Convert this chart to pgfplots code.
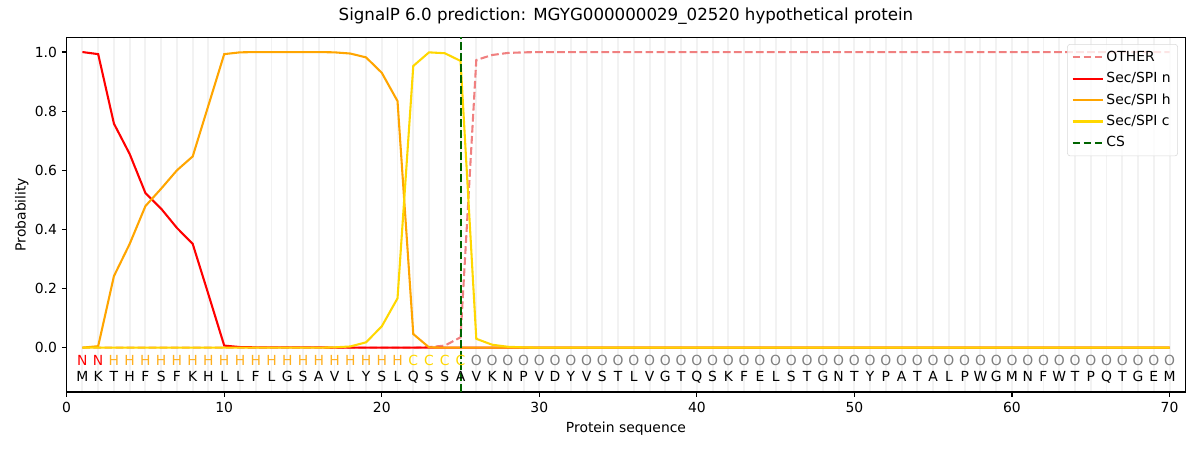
\documentclass[border=0pt]{standalone}
\usepackage{fontspec}
\setmainfont{DejaVu Sans}
\usepackage{pgfplots}
\usepackage{pgfplotstable}
\pgfplotsset{compat=1.18}
\definecolor{othc}{HTML}{F08080}
\definecolor{secn}{HTML}{FF0000}
\definecolor{sech}{HTML}{FFA500}
\definecolor{secc}{HTML}{FFD700}
\definecolor{csc}{HTML}{006400}
\definecolor{gridc}{HTML}{F2F2F2}
\definecolor{labo}{HTML}{808080}
\definecolor{labh}{HTML}{FFB020}

\pgfplotstableread{
x other n h c
1 0 1.0 0.0 0.0
2 0 0.993 0.005 0.0
3 0 0.758 0.242 0.0
4 0 0.655 0.351 0.0
5 0 0.523 0.479 0.0
6 0 0.470 0.538 0.0
7 0 0.405 0.600 0.0
8 0 0.351 0.647 0.0
9 0 0.180 0.820 0.0
10 0 0.007 0.993 0.0
11 0 0.002 0.999 0.0
12 0 0.001 1.0 0.0
13 0 0.001 1.0 0.0
14 0 0.001 1.0 0.0
15 0 0.001 1.0 0.0
16 0 0.001 1.0 0.0
17 0 0.0 0.999 0.001
18 0 0.0 0.995 0.004
19 0 0.0 0.982 0.018
20 0 0.0 0.930 0.072
21 0 0.0 0.834 0.167
22 0 0.0 0.046 0.953
23 0.002 0.0 0.001 0.999
24 0.007 0.0 0.0 0.996
25 0.035 0.0 0.0 0.970
26 0.973 0.0 0.0 0.030
27 0.990 0.0 0.0 0.010
28 0.997 0.0 0.0 0.003
29 0.999 0.0 0.0 0.001
30 1.0 0 0 0
31 1.0 0 0 0
32 1.0 0 0 0
33 1.0 0 0 0
34 1.0 0 0 0
35 1.0 0 0 0
36 1.0 0 0 0
37 1.0 0 0 0
38 1.0 0 0 0
39 1.0 0 0 0
40 1.0 0 0 0
41 1.0 0 0 0
42 1.0 0 0 0
43 1.0 0 0 0
44 1.0 0 0 0
45 1.0 0 0 0
46 1.0 0 0 0
47 1.0 0 0 0
48 1.0 0 0 0
49 1.0 0 0 0
50 1.0 0 0 0
51 1.0 0 0 0
52 1.0 0 0 0
53 1.0 0 0 0
54 1.0 0 0 0
55 1.0 0 0 0
56 1.0 0 0 0
57 1.0 0 0 0
58 1.0 0 0 0
59 1.0 0 0 0
60 1.0 0 0 0
61 1.0 0 0 0
62 1.0 0 0 0
63 1.0 0 0 0
64 1.0 0 0 0
65 1.0 0 0 0
66 1.0 0 0 0
67 1.0 0 0 0
68 1.0 0 0 0
69 1.0 0 0 0
70 1.0 0 0 0
}\probs

\pgfplotsset{
  seqlabel/.style={forget plot, draw=none, mark=none, nodes near coords,
    point meta=explicit symbolic,
    nodes near coords style={anchor=base, inner sep=0pt, font=\fontsize{10}{12}\selectfont, text=#1}},
}

\begin{document}
\begin{tikzpicture}
\useasboundingbox (0,0) rectangle (864pt,324pt);
\begin{axis}[
  at={(48pt,41.76pt)}, anchor=south west,
  scale only axis, width=805.4pt, height=255.4pt,
  xmin=0, xmax=71, ymin=-0.15, ymax=1.05,
  xtick={0,10,20,30,40,50,60,70},
  ytick={0,0.2,0.4,0.6,0.8,1.0},
  minor xtick={1,...,70},
  xminorgrids, minor grid style={draw=gridc, line width=1.4pt},
  minor tick length=0pt,
  tick align=outside, major tick length=3.5pt,
  tick style={black, line width=0.8pt},
  xtick pos=bottom, ytick pos=left,
  axis line style={line width=0.8pt},
  /pgf/number format/assume math mode=true,
  yticklabel style={/pgf/number format/.cd, fixed, fixed zerofill, precision=1},
  ticklabel style={font=\fontsize{10}{12}\selectfont},
  title={SignalP 6.0 prediction: MGYG000000029\_02520 hypothetical protein},
  title style={at={(axis description cs:0.5,1)}, anchor=base, yshift=6pt, inner sep=0pt, font=\fontsize{12}{14}\selectfont},
  xlabel={Protein sequence},
  xlabel style={at={([yshift=-29pt]axis description cs:0.5,0)}, anchor=base, inner sep=0pt, font=\fontsize{10}{12}\selectfont},
  ylabel={Probability},
  ylabel style={at={([xshift=-29.5pt]axis description cs:0,0.5)}, anchor=base, rotate=0, inner sep=0pt, font=\fontsize{10}{12}\selectfont},
  legend style={at={(0.9934,0.981)}, anchor=north east, draw=gray!30, rounded corners=2pt,
    fill=white, fill opacity=0.8, text opacity=1, font=\fontsize{10}{12}\selectfont,
    row sep=2.4pt, inner sep=3pt},
  legend cell align=left,
  legend image code/.code={\draw[#1] (0pt,0pt) -- (21.6pt,0pt);},
]
\addplot[othc, line width=1.5pt, dash pattern=on 5.55pt off 2.4pt] table[x=x, y=other] {\probs};
\addlegendentry{OTHER}
\addplot[secn, line width=1.5pt] table[x=x, y=n] {\probs};
\addlegendentry{Sec/SPI n}
\addplot[sech, line width=1.5pt] table[x=x, y=h] {\probs};
\addlegendentry{Sec/SPI h}
\addplot[secc, line width=1.5pt] table[x=x, y=c] {\probs};
\addlegendentry{Sec/SPI c}
\addplot[csc, line width=1.5pt, dash pattern=on 5.55pt off 2.4pt] coordinates {(25,-0.15) (25,1.05)};
\addlegendentry{CS}

\addplot[seqlabel=secn] table[row sep=\\, meta=l] {x y l\\ 1 -0.062 N\\ 2 -0.062 N\\};
\addplot[seqlabel=labh] table[row sep=\\, meta=l] {x y l\\ 3 -0.062 H\\ 4 -0.062 H\\ 5 -0.062 H\\ 6 -0.062 H\\ 7 -0.062 H\\ 8 -0.062 H\\ 9 -0.062 H\\ 10 -0.062 H\\ 11 -0.062 H\\ 12 -0.062 H\\ 13 -0.062 H\\ 14 -0.062 H\\ 15 -0.062 H\\ 16 -0.062 H\\ 17 -0.062 H\\ 18 -0.062 H\\ 19 -0.062 H\\ 20 -0.062 H\\ 21 -0.062 H\\};
\addplot[seqlabel=secc] table[row sep=\\, meta=l] {x y l\\ 22 -0.062 C\\ 23 -0.062 C\\ 24 -0.062 C\\ 25 -0.062 C\\};
\addplot[seqlabel=labo] table[row sep=\\, meta=l] {x y l\\ 26 -0.062 O\\ 27 -0.062 O\\ 28 -0.062 O\\ 29 -0.062 O\\ 30 -0.062 O\\ 31 -0.062 O\\ 32 -0.062 O\\ 33 -0.062 O\\ 34 -0.062 O\\ 35 -0.062 O\\ 36 -0.062 O\\ 37 -0.062 O\\ 38 -0.062 O\\ 39 -0.062 O\\ 40 -0.062 O\\ 41 -0.062 O\\ 42 -0.062 O\\ 43 -0.062 O\\ 44 -0.062 O\\ 45 -0.062 O\\ 46 -0.062 O\\ 47 -0.062 O\\ 48 -0.062 O\\ 49 -0.062 O\\ 50 -0.062 O\\ 51 -0.062 O\\ 52 -0.062 O\\ 53 -0.062 O\\ 54 -0.062 O\\ 55 -0.062 O\\ 56 -0.062 O\\ 57 -0.062 O\\ 58 -0.062 O\\ 59 -0.062 O\\ 60 -0.062 O\\ 61 -0.062 O\\ 62 -0.062 O\\ 63 -0.062 O\\ 64 -0.062 O\\ 65 -0.062 O\\ 66 -0.062 O\\ 67 -0.062 O\\ 68 -0.062 O\\ 69 -0.062 O\\ 70 -0.062 O\\};
\addplot[seqlabel=black] table[row sep=\\, meta=l] {x y l\\ 1 -0.113 M\\ 2 -0.113 K\\ 3 -0.113 T\\ 4 -0.113 H\\ 5 -0.113 F\\ 6 -0.113 S\\ 7 -0.113 F\\ 8 -0.113 K\\ 9 -0.113 H\\ 10 -0.113 L\\ 11 -0.113 L\\ 12 -0.113 F\\ 13 -0.113 L\\ 14 -0.113 G\\ 15 -0.113 S\\ 16 -0.113 A\\ 17 -0.113 V\\ 18 -0.113 L\\ 19 -0.113 Y\\ 20 -0.113 S\\ 21 -0.113 L\\ 22 -0.113 Q\\ 23 -0.113 S\\ 24 -0.113 S\\ 25 -0.113 A\\ 26 -0.113 V\\ 27 -0.113 K\\ 28 -0.113 N\\ 29 -0.113 P\\ 30 -0.113 V\\ 31 -0.113 D\\ 32 -0.113 Y\\ 33 -0.113 V\\ 34 -0.113 S\\ 35 -0.113 T\\ 36 -0.113 L\\ 37 -0.113 V\\ 38 -0.113 G\\ 39 -0.113 T\\ 40 -0.113 Q\\ 41 -0.113 S\\ 42 -0.113 K\\ 43 -0.113 F\\ 44 -0.113 E\\ 45 -0.113 L\\ 46 -0.113 S\\ 47 -0.113 T\\ 48 -0.113 G\\ 49 -0.113 N\\ 50 -0.113 T\\ 51 -0.113 Y\\ 52 -0.113 P\\ 53 -0.113 A\\ 54 -0.113 T\\ 55 -0.113 A\\ 56 -0.113 L\\ 57 -0.113 P\\ 58 -0.113 W\\ 59 -0.113 G\\ 60 -0.113 M\\ 61 -0.113 N\\ 62 -0.113 F\\ 63 -0.113 W\\ 64 -0.113 T\\ 65 -0.113 P\\ 66 -0.113 Q\\ 67 -0.113 T\\ 68 -0.113 G\\ 69 -0.113 E\\ 70 -0.113 M\\};
\end{axis}
\end{tikzpicture}
\end{document}
